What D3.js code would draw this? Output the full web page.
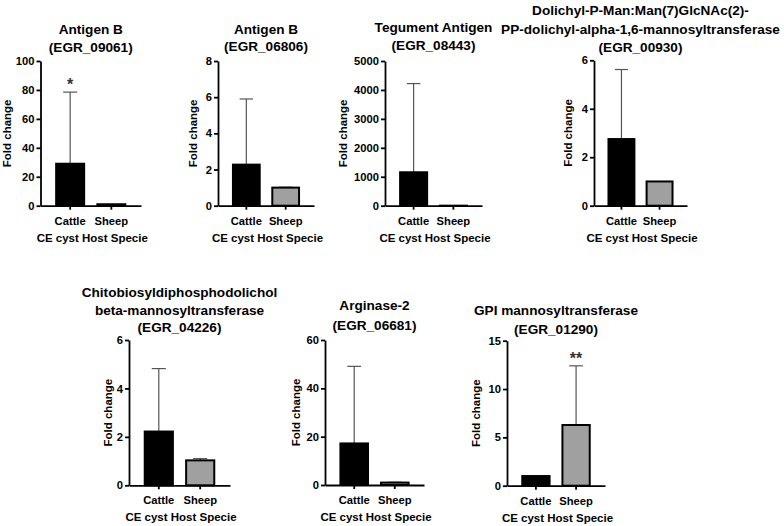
<!DOCTYPE html>
<meta charset="utf-8">
<style>

body {
  margin: 0;
  background: #fff;
}

svg text {
  font-family: "Liberation Sans", Arial, Helvetica, sans-serif;
  font-weight: bold;
  fill: #000;
}

.axis path, .axis line {
  stroke: #000;
  stroke-width: 1.8px;
}

.axis text {
  font-size: 11.2px;
}

.title {
  font-size: 13.6px;
}

.label {
  font-size: 11.5px;
}

.err {
  stroke: #555;
  stroke-width: 1.2px;
}

.star {
  font-size: 16px;
  fill: #333;
}

</style>
<body>
<script src="https://d3js.org/d3.v7.min.js"></script>
<script>

// data, one entry per panel
var groups = ["Cattle", "Sheep"];

var titles = [
  ["Antigen B", "(EGR_09061)"],
  ["Antigen B", "(EGR_06806)"],
  ["Tegument Antigen", "(EGR_08443)"],
  ["Dolichyl-P-Man:Man(7)GlcNAc(2)-", "PP-dolichyl-alpha-1,6-mannosyltransferase", "(EGR_00930)"],
  ["Chitobiosyldiphosphodolichol", "beta-mannosyltransferase", "(EGR_04226)"],
  ["Arginase-2", "(EGR_06681)"],
  ["GPI mannosyltransferase", "(EGR_01290)"]
];

// mean fold change [Cattle, Sheep]
var means = [
  [29, 1],
  [2.27, 1],
  [1155, 1],
  [2.75, 1],
  [2.22, 1.03],
  [17.2, 1],
  [1, 6.28]
];

// upper SD [Cattle, Sheep]
var sds = [
  [49.5, 0],
  [3.63, 0.02],
  [3065, 0],
  [2.87, 0],
  [2.6, 0.07],
  [31.9, 0.15],
  [0, 6.12]
];

var yMax = [100, 8, 5000, 6, 6, 60, 15];

var yTicks = [
  [0, 20, 40, 60, 80, 100],
  [0, 2, 4, 6, 8],
  [0, 1000, 2000, 3000, 4000, 5000],
  [0, 2, 4, 6],
  [0, 2, 4, 6],
  [0, 20, 40, 60],
  [0, 5, 10, 15]
];

// significance mark: [group index, text]
var stars = [[0, "*"], null, null, null, null, null, [1, "**"]];

var xTitle = "CE cyst Host Specie";
var yTitle = "Fold change";

// panel placement in the figure
var layout = [
  {x0: 40.5, x1: 141, top: 61,  bottom: 205.7, titleY: [29, 47],       labelX: 7},
  {x0: 218, x1: 314, top: 61,  bottom: 205.7, titleY: [29, 46],       labelX: 193},
  {x0: 385, x1: 482, top: 61,  bottom: 205.7, titleY: [27, 45],       labelX: 343},
  {x0: 594, x1: 687, top: 60.3, bottom: 205.7, titleY: [10, 29, 47],  labelX: 568},
  {x0: 129, x1: 230, top: 340, bottom: 485.3, titleY: [292, 310, 327], labelX: 108},
  {x0: 325, x1: 424, top: 340, bottom: 485,   titleY: [305, 325],     labelX: 296},
  {x0: 507, x1: 605, top: 340.7, bottom: 485.7, titleY: [310, 329],   labelX: 476}
];

var fills = {"Cattle": "#000", "Sheep": "#a0a0a0"};

var svg = d3.select("body").append("svg")
    .attr("width", 784)
    .attr("height", 526);

function panel(i) {
  var L = layout[i];
  var g = svg.append("g");

  var x = d3.scaleBand()
    .domain(groups)
    .range([L.x0, L.x1])
    .paddingInner(0.32)
    .paddingOuter(0.38);

  var y = d3.scaleLinear()
    .domain([0, yMax[i]])
    .range([L.bottom, L.top]);

  var data = groups.map(function(k, j) {
    return {group: k, mean: means[i][j], sd: sds[i][j]};
  });

  // error bars (upper only), drawn under the bars
  var eb = g.selectAll(".eb")
    .data(data.filter(function(d) { return d.sd > 0; }))
    .enter().append("g");

  eb.append("line")
    .attr("class", "err")
    .attr("x1", function(d) { return x(d.group) + x.bandwidth() / 2; })
    .attr("x2", function(d) { return x(d.group) + x.bandwidth() / 2; })
    .attr("y1", function(d) { return y(d.mean); })
    .attr("y2", function(d) { return y(d.mean + d.sd); });

  eb.append("line")
    .attr("class", "err")
    .attr("x1", function(d) { return x(d.group) + x.bandwidth() / 4; })
    .attr("x2", function(d) { return x(d.group) + x.bandwidth() * 3 / 4; })
    .attr("y1", function(d) { return y(d.mean + d.sd); })
    .attr("y2", function(d) { return y(d.mean + d.sd); });

  g.selectAll(".bar")
    .data(data)
    .enter().append("rect")
    .attr("class", "bar")
    .attr("x", function(d) { return x(d.group); })
    .attr("width", x.bandwidth())
    .attr("y", function(d) { return y(d.mean); })
    .attr("height", function(d) { return y(0) - y(d.mean); })
    .style("fill", function(d) { return fills[d.group]; })
    .style("stroke", "#000")
    .style("stroke-width", 2);

  g.append("g")
    .attr("class", "axis")
    .attr("transform", "translate(" + L.x0 + ",0)")
    .call(d3.axisLeft(y).tickValues(yTicks[i]).tickFormat(d3.format("d"))
      .tickSize(4).tickSizeOuter(0).tickPadding(2));

  g.append("g")
    .attr("class", "axis")
    .attr("transform", "translate(0," + L.bottom + ")")
    .call(d3.axisBottom(x).tickSize(4).tickSizeOuter(0).tickPadding(7));

  var s = stars[i];
  if (s) {
    var d = data[s[0]];
    g.append("text")
      .attr("class", "star")
      .attr("x", x(d.group) + x.bandwidth() / 2)
      .attr("y", y(d.mean + d.sd) - 2)
      .attr("text-anchor", "middle")
      .text(s[1]);
  }

  var cx = (L.x0 + L.x1) / 2;

  titles[i].forEach(function(t, k) {
    g.append("text")
      .attr("class", "title")
      .attr("x", cx)
      .attr("y", L.titleY[k])
      .attr("dy", "0.36em")
      .attr("text-anchor", "middle")
      .text(t);
  });

  g.append("text")
    .attr("class", "label")
    .attr("x", cx + 1.5)
    .attr("y", L.bottom + 36)
    .attr("text-anchor", "middle")
    .text(xTitle);

  g.append("text")
    .attr("class", "label")
    .attr("transform", "translate(" + L.labelX + "," + (L.top + L.bottom) / 2 + ") rotate(-90)")
    .attr("dy", "0.36em")
    .attr("text-anchor", "middle")
    .text(yTitle);
}

for (var i = 0; i < titles.length; i++) panel(i);

</script>
